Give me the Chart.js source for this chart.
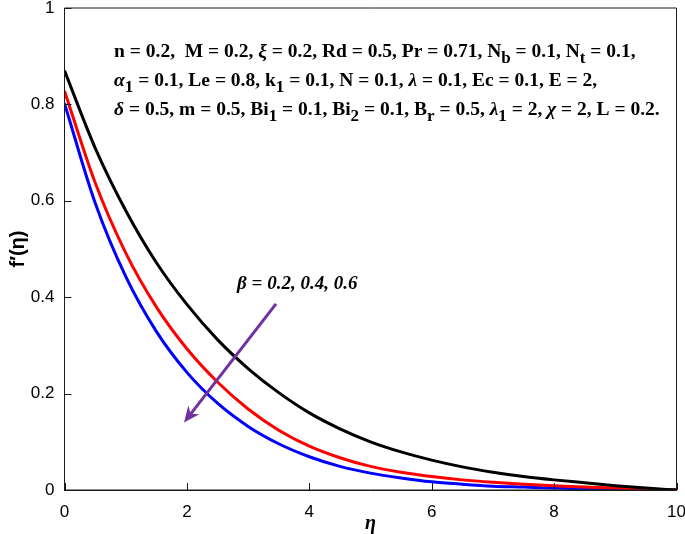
<!DOCTYPE html>
<html>
<head>
<meta charset="utf-8">
<script src="https://cdn.jsdelivr.net/npm/chart.js@4.4.1/dist/chart.umd.min.js"></script>
<style>
  html, body { margin: 0; padding: 0; background: #fff; }
  #wrap { width: 685px; height: 534px; }
</style>
</head>
<body>
<div id="wrap"><canvas id="chart"></canvas></div>
<script>
// f'(eta) profiles, one per beta value
const eta = [0, 0.5, 1, 1.5, 2, 2.5, 3, 3.5, 4, 4.5, 5, 5.5, 6, 6.5, 7, 7.5, 8, 8.5, 9, 9.5, 10];
const fBeta02 = [0.870, 0.710, 0.580, 0.472, 0.385, 0.312, 0.252, 0.202, 0.160, 0.127, 0.100, 0.079, 0.062, 0.048, 0.037, 0.028, 0.021, 0.015, 0.009, 0.004, 0];
const fBeta04 = [0.828, 0.638, 0.492, 0.380, 0.293, 0.224, 0.168, 0.124, 0.091, 0.067, 0.049, 0.037, 0.028, 0.021, 0.016, 0.012, 0.009, 0.006, 0.004, 0.002, 0];
const fBeta06 = [0.802, 0.596, 0.443, 0.329, 0.244, 0.180, 0.132, 0.096, 0.069, 0.049, 0.035, 0.025, 0.017, 0.012, 0.008, 0.006, 0.004, 0.003, 0.002, 0.001, 0];

const xTicks = [0, 2, 4, 6, 8, 10];
const yTicks = [0, 0.2, 0.4, 0.6, 0.8, 1];

const seriesColors = ["#000000", "#ff0000", "#0000ff"];
const arrowColor = "#7030a0";

// parameter box text: [text, kind]  n = bold, i = bold italic, s = subscript
const paramLines = [
  [["n = 0.2,  M = 0.2, ", "n"], ["ξ", "i"], [" = 0.2, Rd = 0.5, Pr = 0.71, N", "n"], ["b", "s"], [" = 0.1, N", "n"], ["t", "s"], [" = 0.1,", "n"]],
  [["α", "i"], ["1", "s"], [" = 0.1, Le = 0.8, k", "n"], ["1", "s"], [" = 0.1, N = 0.1, ", "n"], ["λ", "i"], [" = 0.1, Ec = 0.1, E = 2,", "n"]],
  [["δ", "i"], [" = 0.5, m = 0.5, Bi", "n"], ["1", "s"], [" = 0.1, Bi", "n"], ["2", "s"], [" = 0.1, B", "n"], ["r", "s"], [" = 0.5, ", "n"], ["λ", "i"], ["1", "s"], [" = 2, ", "n"], ["χ", "i"], [" = 2, L = 0.2.", "n"]]
];
const betaLabel = "β = 0.2, 0.4, 0.6";

// annotation anchors in data units (eta, f')
const paramAnchor = { x: 0.81, y: 0.898 };
const betaAnchor = { x: 2.82, y: 0.417 };
const arrowFrom = { x: 3.456, y: 0.386 };
const arrowTo = { x: 1.953, y: 0.14 };

function toPoints(ys) {
  return eta.map((e, i) => ({ x: e, y: ys[i] }));
}

function drawRich(ctx, parts, x, y, size) {
  let cx = x;
  parts.forEach(([txt, kind]) => {
    let dy = 0;
    if (kind === "i") ctx.font = `italic bold ${size}px "Liberation Serif"`;
    else if (kind === "s") { ctx.font = `bold ${Math.round(size * 0.85)}px "Liberation Serif"`; dy = 6; }
    else ctx.font = `bold ${size}px "Liberation Serif"`;
    ctx.fillText(txt, cx, y + dy);
    cx += ctx.measureText(txt).width;
  });
}

const decorPlugin = {
  id: "decor",
  afterDraw(chart) {
    const { ctx, chartArea: a, scales: { x, y } } = chart;
    ctx.save();

    // box around the plot
    ctx.strokeStyle = "#1a1a1a";
    ctx.lineWidth = 1;
    ctx.beginPath();
    ctx.moveTo(a.left, a.bottom);
    ctx.lineTo(a.left, a.top);
    ctx.lineTo(a.right, a.top);
    ctx.lineTo(a.right, a.bottom);
    ctx.closePath();
    ctx.stroke();

    // inward ticks, bottom and left only
    ctx.beginPath();
    xTicks.forEach(v => {
      const px = Math.round(x.getPixelForValue(v)) + 0.5;
      ctx.moveTo(px, a.bottom);
      ctx.lineTo(px, a.bottom - 7);
    });
    yTicks.forEach(v => {
      const py = Math.round(y.getPixelForValue(v)) + 0.5;
      ctx.moveTo(a.left, py);
      ctx.lineTo(a.left + 7, py);
    });
    ctx.stroke();

    // parameter text
    ctx.fillStyle = "#000";
    ctx.textBaseline = "alphabetic";
    ctx.textAlign = "left";
    const tx = x.getPixelForValue(paramAnchor.x);
    const ty = y.getPixelForValue(paramAnchor.y);
    paramLines.forEach((line, i) => drawRich(ctx, line, tx, ty + i * 29, 19.5));

    // beta label
    ctx.font = 'italic bold 19px "Liberation Serif"';
    ctx.fillText(betaLabel, x.getPixelForValue(betaAnchor.x), y.getPixelForValue(betaAnchor.y));

    // arrow
    const x1 = x.getPixelForValue(arrowFrom.x), y1 = y.getPixelForValue(arrowFrom.y);
    const x2 = x.getPixelForValue(arrowTo.x), y2 = y.getPixelForValue(arrowTo.y);
    const ang = Math.atan2(y2 - y1, x2 - x1);
    const headLen = 16, headW = 7, notch = 11;
    ctx.strokeStyle = arrowColor;
    ctx.fillStyle = arrowColor;
    ctx.lineWidth = 3;
    ctx.beginPath();
    ctx.moveTo(x1, y1);
    ctx.lineTo(x2 - notch * Math.cos(ang), y2 - notch * Math.sin(ang));
    ctx.stroke();
    const bx = x2 - headLen * Math.cos(ang), by = y2 - headLen * Math.sin(ang);
    const nx = -Math.sin(ang), ny = Math.cos(ang);
    ctx.beginPath();
    ctx.moveTo(x2, y2);
    ctx.lineTo(bx + nx * headW, by + ny * headW);
    ctx.lineTo(x2 - notch * Math.cos(ang), y2 - notch * Math.sin(ang));
    ctx.lineTo(bx - nx * headW, by - ny * headW);
    ctx.closePath();
    ctx.fill();

    ctx.restore();
  }
};

const tickFont = { family: '"Liberation Sans", Arial, sans-serif', size: 17 };

new Chart(document.getElementById("chart"), {
  type: "line",
  data: {
    datasets: [fBeta02, fBeta04, fBeta06].map((d, i) => ({
      label: "beta" + i,
      data: toPoints(d),
      borderColor: seriesColors[i],
      borderWidth: 3,
      pointRadius: 0,
      fill: false,
      cubicInterpolationMode: "monotone"
    }))
  },
  options: {
    responsive: true,
    maintainAspectRatio: false,
    animation: false,
    layout: { padding: { top: 8, right: 8.5, bottom: 0, left: 0 } },
    plugins: { legend: { display: false }, tooltip: { enabled: false } },
    scales: {
      x: {
        type: "linear",
        min: 0,
        max: 10,
        afterBuildTicks: s => { s.ticks = xTicks.map(v => ({ value: v })); },
        afterFit: s => { s.height = 44; s.paddingLeft = 0; s.paddingRight = 0; },
        grid: { display: false, drawTicks: false },
        border: { display: true, color: "#1a1a1a", width: 1 },
        ticks: { color: "#000", font: tickFont, padding: 12, maxRotation: 0, callback: v => String(v) },
        title: {
          display: true,
          text: "η",
          color: "#000",
          font: { family: '"Liberation Serif", serif', size: 20, style: "italic", weight: "bold", lineHeight: 1 },
          padding: { top: 0, bottom: 0 }
        }
      },
      y: {
        min: 0,
        max: 1,
        afterBuildTicks: s => { s.ticks = yTicks.map(v => ({ value: v })); },
        afterFit: s => { s.width = 64.5; s.paddingTop = 0; s.paddingBottom = 0; },
        grid: { display: false, drawTicks: false },
        border: { display: true, color: "#1a1a1a", width: 1 },
        ticks: { color: "#000", font: tickFont, padding: 10, callback: v => String(v) },
        title: {
          display: true,
          text: "f′(η)",
          color: "#000",
          font: { family: '"Liberation Sans", Arial, sans-serif', size: 20, weight: "bold", lineHeight: 1 },
          padding: { top: 8, bottom: 0 }
        }
      }
    }
  },
  plugins: [decorPlugin]
});
</script>
</body>
</html>
